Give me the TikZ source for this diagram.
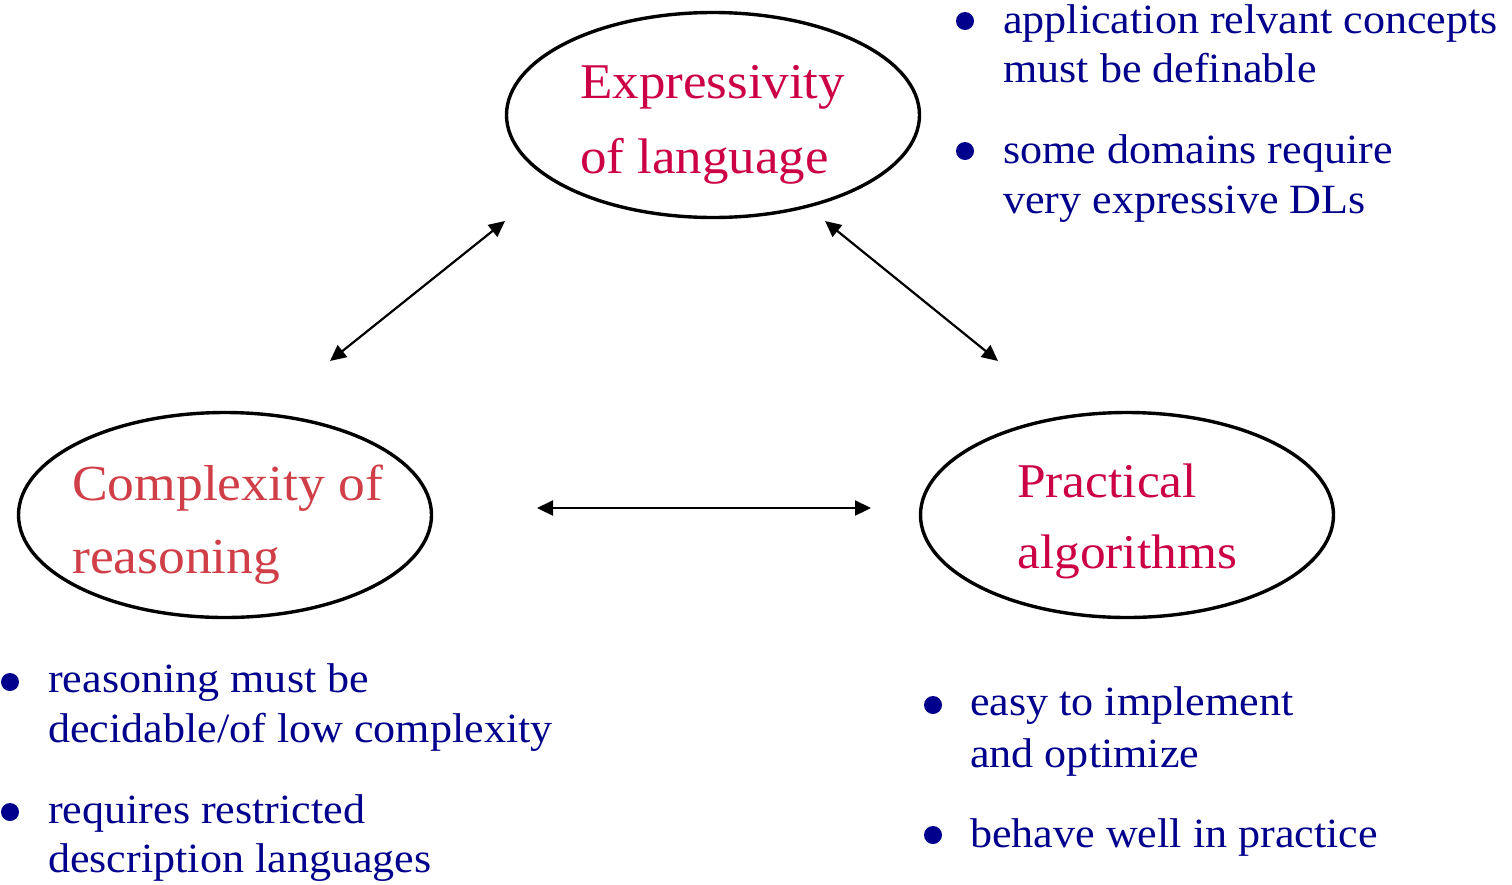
\documentclass[tikz,border=0pt]{standalone}
\usepackage{fontspec}
\setmainfont[FakeStretch=1.06]{Liberation Serif}
\usetikzlibrary{shapes.geometric,arrows.meta}
\definecolor{crim}{RGB}{204,0,68}
\definecolor{lred}{RGB}{208,62,72}
\definecolor{navy}{RGB}{0,0,140}
\tikzset{
  oval/.style={ellipse,draw=black,line width=3.4pt,minimum width=413pt,minimum height=205pt,inner sep=0pt},
  title/.style={anchor=base west,inner sep=0pt},
  btext/.style={anchor=base west,inner sep=0pt,text=navy,font=\fontsize{41.6}{48}\selectfont},
  bul/.style={circle,fill=navy,minimum size=18pt,inner sep=0pt},
  biarrow/.style={line width=2.2pt,{Triangle[length=16pt,width=15pt]}-{Triangle[length=16pt,width=15pt]}}
}
\begin{document}
\begin{tikzpicture}[x=1pt,y=-1pt]
\useasboundingbox (0,0) rectangle (1512,884);
% ellipses
\node[oval] (expr) at (713,115) {};
\node[oval] (comp) at (225,515) {};
\node[oval] (prac) at (1127,515) {};
% titles
\node[title,text=crim,font=\fontsize{50}{60}\selectfont] (t1) at (580,98) {Expressivity};
\node[title,text=crim,font=\fontsize{50}{60}\selectfont] (t2) at (580,173) {of language};
\node[title,text=lred,font=\fontsize{50.5}{60}\selectfont] (t3) at (72,500) {Complexity of};
\node[title,text=lred,font=\fontsize{50.5}{60}\selectfont] (t4) at (72,573) {reasoning};
\node[title,text=crim,font=\fontsize{48.5}{60}\selectfont] (t5) at (1017,497) {Practical};
\node[title,text=crim,font=\fontsize{48.5}{60}\selectfont] (t6) at (1017,568) {algorithms};
% arrows
\coordinate (a1) at (330,361);
\coordinate (a2) at (505,221);
\coordinate (b1) at (825,221);
\coordinate (b2) at (998,361);
\coordinate (c1) at (537,508);
\coordinate (c2) at (871,508);
\draw[biarrow] (a1) -- (a2);
\draw[biarrow] (b1) -- (b2);
\draw[biarrow] (c1) -- (c2);
% top right bullets
\node[bul] (u1) at (965,21) {};
\node[btext] (u1a) at (1003,33) {application relvant concepts};
\node[btext] (u1b) at (1003,82) {must be definable};
\node[bul] (u2) at (965,151) {};
\node[btext] (u2a) at (1003,163) {some domains require};
\node[btext] (u2b) at (1003,213) {very expressive DLs};
% bottom left bullets
\node[bul] (l1) at (10,682) {};
\node[btext] (l1a) at (48,692) {reasoning must be};
\node[btext] (l1b) at (48,742) {decidable/of low complexity};
\node[bul] (l2) at (10,812) {};
\node[btext] (l2a) at (48,823) {requires restricted};
\node[btext] (l2b) at (48,872) {description languages};
% bottom right bullets
\node[bul] (r1) at (933,705) {};
\node[btext] (r1a) at (970,715) {easy to implement};
\node[btext] (r1b) at (970,767) {and optimize};
\node[bul] (r2) at (933,835) {};
\node[btext] (r2a) at (970,847) {behave well in practice};
\end{tikzpicture}
\end{document}
